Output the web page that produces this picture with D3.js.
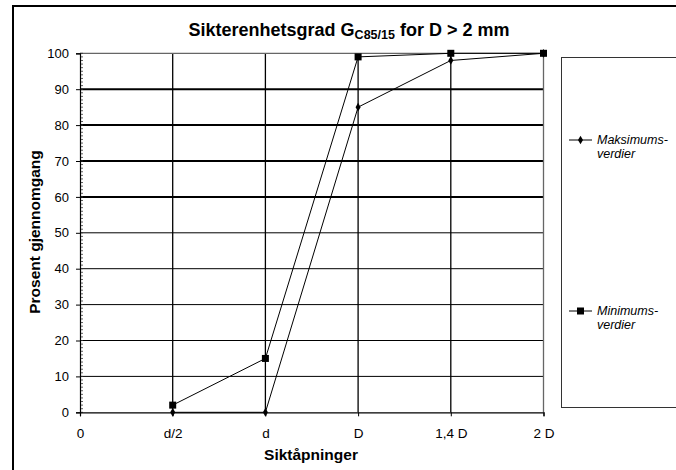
<!DOCTYPE html>
<html>
<head>
<meta charset="utf-8">
<script src="https://cdn.jsdelivr.net/npm/d3@7"></script>
<style>
  html, body { margin: 0; padding: 0; background: #fff; }
  svg { display: block; font-family: "Liberation Sans", Arial, sans-serif; }
</style>
</head>
<body>
<svg id="chart" width="676" height="470"></svg>
<script>
// Sieve openings (x categories) and passing percentages
const categories = ["0", "d/2", "d", "D", "1,4 D", "2 D"];
const seriesCategories = ["d/2", "d", "D", "1,4 D", "2 D"];
const maksimumsverdier = [0, 0, 85, 98, 100];
const minimumsverdier = [2, 15, 99, 100, 100];
const yTicks = [0, 10, 20, 30, 40, 50, 60, 70, 80, 90, 100];
const thickGrid = [60, 70, 80, 90];

const svg = d3.select("#chart");

// Outer frame (left and top edges visible)
svg.append("path")
  .attr("d", "M13,470 L13,6 L676,6")
  .attr("fill", "none").attr("stroke", "#000").attr("stroke-width", 2);

const x = d3.scalePoint().domain(categories).range([80, 543.5]);
const y = d3.scaleLinear().domain([0, 100]).range([412.3, 53.3]);

// Horizontal gridlines
const grid = svg.append("g");
grid.selectAll("line.h")
  .data(yTicks.filter(v => v > 0 && v < 100))
  .join("line")
  .attr("x1", x.range()[0]).attr("x2", x.range()[1])
  .attr("y1", d => y(d)).attr("y2", d => y(d))
  .attr("stroke", "#000")
  .attr("stroke-width", d => thickGrid.includes(d) ? 2 : 1);

// Vertical gridlines
grid.selectAll("line.v")
  .data(categories.slice(1, 5))
  .join("line")
  .attr("x1", d => x(d)).attr("x2", d => x(d))
  .attr("y1", y(0)).attr("y2", y(100))
  .attr("stroke", "#000").attr("stroke-width", 1.3);

// Plot area top / right border
svg.append("path")
  .attr("d", `M${x.range()[0]},${y(100)} L${x.range()[1]},${y(100)} L${x.range()[1]},${y(0)}`)
  .attr("fill", "none").attr("stroke", "#666").attr("stroke-width", 1.3);

// Y axis with minor ticks
const yMinor = d3.range(0, 101, 1);
svg.append("g").selectAll("line")
  .data(yMinor)
  .join("line")
  .attr("x1", 80).attr("x2", 83)
  .attr("y1", d => y(d)).attr("y2", d => y(d))
  .attr("stroke", "#333").attr("stroke-width", 0.8);

const yAxis = svg.append("g")
  .attr("transform", `translate(80,0)`)
  .call(d3.axisLeft(y).tickValues(yTicks).tickSize(4).tickPadding(7));
yAxis.select(".domain").attr("stroke", "#000").attr("stroke-width", 1.2);
yAxis.selectAll(".tick line").attr("stroke", "#000");
yAxis.selectAll("text")
  .attr("font-size", 13).attr("font-family", "Liberation Sans, Arial, sans-serif")
  .attr("fill", "#000");

// X axis
const xAxis = svg.append("g")
  .attr("transform", `translate(0,${y(0)})`)
  .call(d3.axisBottom(x).tickSize(4).tickPadding(12));
xAxis.select(".domain").attr("stroke", "#000").attr("stroke-width", 1.2);
xAxis.selectAll(".tick line").attr("stroke", "#000");
xAxis.selectAll("text")
  .attr("font-size", 13.5).attr("font-family", "Liberation Sans, Arial, sans-serif")
  .attr("fill", "#000");

// Series lines
const line = d3.line().x(d => x(d.c)).y(d => y(d.v));
const maxData = seriesCategories.map((c, i) => ({ c, v: maksimumsverdier[i] }));
const minData = seriesCategories.map((c, i) => ({ c, v: minimumsverdier[i] }));

svg.append("path").datum(maxData)
  .attr("d", line).attr("fill", "none").attr("stroke", "#000").attr("stroke-width", 1);
svg.append("path").datum(minData)
  .attr("d", line).attr("fill", "none").attr("stroke", "#000").attr("stroke-width", 1);

const diamond = d3.symbol().type(d3.symbolDiamond).size(22);
svg.append("g").selectAll("path")
  .data(maxData).join("path")
  .attr("d", diamond)
  .attr("transform", d => `translate(${x(d.c)},${y(d.v)})`)
  .attr("fill", "#000");

svg.append("g").selectAll("rect")
  .data(minData).join("rect")
  .attr("x", d => x(d.c) - 3.5).attr("y", d => y(d.v) - 3.5)
  .attr("width", 7).attr("height", 7)
  .attr("fill", "#000");

// Title
const title = svg.append("text")
  .attr("x", 349).attr("y", 36)
  .attr("text-anchor", "middle")
  .attr("font-size", 18).attr("font-weight", "bold").attr("fill", "#000");
title.append("tspan").text("Sikterenhetsgrad G");
title.append("tspan").attr("font-size", 12.5).attr("dy", 3).text("C85/15");
title.append("tspan").attr("dy", -3).text(" for D > 2 mm");

// Axis titles
svg.append("text")
  .attr("x", 311).attr("y", 460)
  .attr("text-anchor", "middle")
  .attr("font-size", 15.5).attr("font-weight", "bold").attr("fill", "#000")
  .text("Siktåpninger");

svg.append("text")
  .attr("transform", "translate(40,232) rotate(-90)")
  .attr("text-anchor", "middle")
  .attr("font-size", 15.5).attr("font-weight", "bold").attr("fill", "#000")
  .text("Prosent gjennomgang");

// Legend
const legend = svg.append("g");
legend.append("rect")
  .attr("x", 561.5).attr("y", 57.5).attr("width", 130).attr("height", 350)
  .attr("fill", "#fff").attr("stroke", "#333").attr("stroke-width", 1);

const legendItems = [
  { name: ["Maksimums-", "verdier"], y: 144, marker: "diamond" },
  { name: ["Minimums-", "verdier"], y: 315, marker: "square" }
];
legendItems.forEach(item => {
  legend.append("line")
    .attr("x1", 569).attr("x2", 592)
    .attr("y1", item.y - 4).attr("y2", item.y - 4)
    .attr("stroke", "#000").attr("stroke-width", 1);
  if (item.marker === "diamond") {
    legend.append("path").attr("d", diamond)
      .attr("transform", `translate(580.5,${item.y - 4})`).attr("fill", "#000");
  } else {
    legend.append("rect")
      .attr("x", 577).attr("y", item.y - 7.5).attr("width", 7).attr("height", 7)
      .attr("fill", "#000");
  }
  const t = legend.append("text")
    .attr("x", 597).attr("y", item.y)
    .attr("font-size", 12.5).attr("font-style", "italic").attr("fill", "#000");
  item.name.forEach((s, i) => {
    t.append("tspan").attr("x", 597).attr("dy", i === 0 ? 0 : 14).text(s);
  });
});
</script>
</body>
</html>
